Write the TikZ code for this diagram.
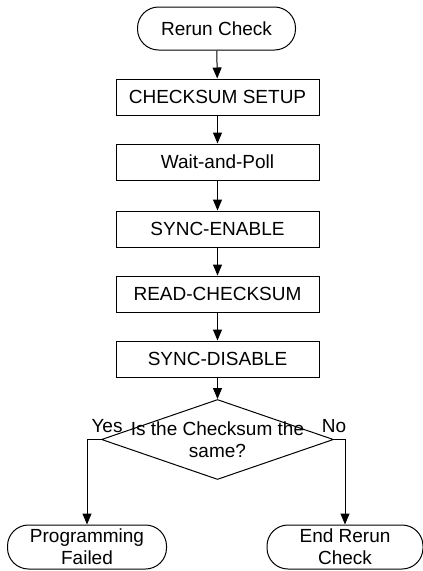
\documentclass[tikz,border=0pt]{standalone}
\usepackage{fontspec}
\setmainfont{Liberation Sans}
\usetikzlibrary{shapes.geometric,arrows.meta}
\begin{document}
\begin{tikzpicture}[x=1pt, y=-1pt, line width=1pt,
    font=\fontsize{19}{22}\selectfont,
    term/.style={draw, rectangle, rounded corners=21pt, align=center, inner sep=0pt, minimum height=44pt},
    stepbox/.style={draw, rectangle, minimum width=203pt, minimum height=36pt, inner sep=0pt},
    decision/.style={draw, diamond, minimum width=232pt, minimum height=80pt, inner sep=0pt},
    flow/.style={-{Triangle[length=11pt, width=9pt]}}]
    \useasboundingbox (0,0) rectangle (423,571);
    \node[term, minimum width=158pt, minimum height=43pt] (start) at (216.5,28.5) {Rerun Check};
    \node[stepbox] (setup) at (217.5,97) {CHECKSUM SETUP};
    \node[stepbox] (poll) at (217.5,162) {Wait-and-Poll};
    \node[stepbox] (syncen) at (217.5,229) {SYNC-ENABLE};
    \node[stepbox] (readck) at (217.5,294) {READ-CHECKSUM};
    \node[stepbox] (syncdis) at (217.5,359) {SYNC-DISABLE};
    \node[decision] (same) at (217.5,439.5) {};
    \node[align=center, inner sep=0pt] (sametxt) at (same.center) {Is the Checksum the\\same?};
    \node[term, minimum width=159pt] (fail) at (87,547) {Programming\\Failed};
    \node[term, minimum width=156pt] (endck) at (345,547) {End Rerun\\Check};
    \draw[flow] (start) -- (setup);
    \draw[flow] (setup) -- (poll);
    \draw[flow] (poll) -- (syncen);
    \draw[flow] (syncen) -- (readck);
    \draw[flow] (readck) -- (syncdis);
    \draw[flow] (syncdis) -- (same);
    \draw[flow] (same.west) node[anchor=base, inner sep=0pt, xshift=6pt, yshift=7pt] (yes) {Yes} -| (fail.north);
    \draw[flow] (same.east) node[anchor=base, inner sep=0pt, yshift=7pt] (no) {No} -| (endck.north);
\end{tikzpicture}
\end{document}
